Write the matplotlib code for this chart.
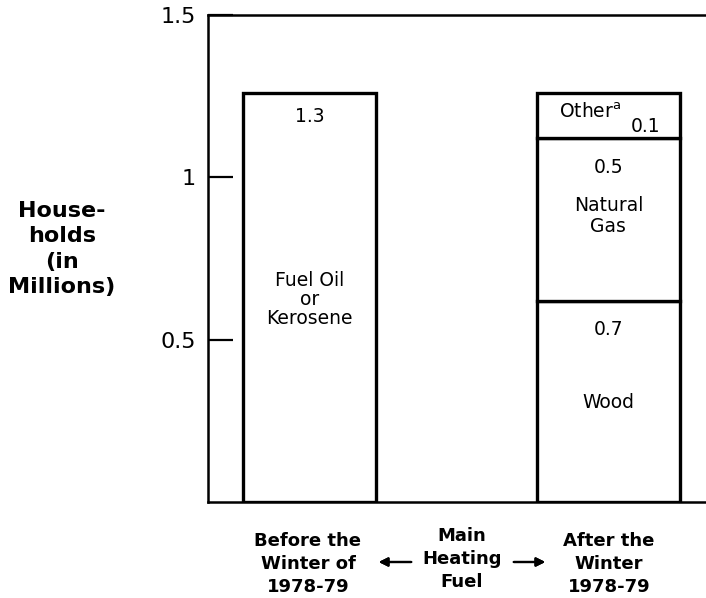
import matplotlib.pyplot as plt

plt.rcParams['font.family'] = ['DejaVu Sans']

# data (heights as drawn, labels as printed)
before_value = 1.26
before_label = '1.3'
after_fuels = ['Wood', 'Natural\nGas', 'Other']
after_values = [0.62, 0.50, 0.14]
after_labels = ['0.7', '0.5', '0.1']
y_ticks = [0.5, 1, 1.5]
y_ticklabels = ['0.5', '1', '1.5']

fig = plt.figure(figsize=(7.06, 5.98), dpi=100)
ax = fig.add_axes([208 / 706, 96 / 598, 520 / 706, 487 / 598])

ax.set_xlim(-0.339, 1.40)
ax.set_ylim(0, 1.5)

bar_kw = dict(facecolor='white', edgecolor='black', linewidth=2.4)
fs = 13.5

# before: fuel oil / kerosene
ax.bar(0, before_value, width=0.445, **bar_kw)
ax.annotate(before_label, (0, before_value), xytext=(0, -17), textcoords='offset points',
            ha='center', va='center', fontsize=fs)
ax.text(0, 0.625, 'Fuel Oil\nor\nKerosene', ha='center', va='center', fontsize=fs,
        linespacing=1.0)

# after: stacked
bottom = 0
for fuel, val, lab in zip(after_fuels, after_values, after_labels):
    ax.bar(1, val, width=0.478, bottom=bottom, **bar_kw)
    top = bottom + val
    if fuel == 'Other':
        ax.annotate('Other$^\\mathregular{a}$', (0.94, top), xytext=(0, -14),
                    textcoords='offset points', ha='center', va='center', fontsize=fs)
        ax.annotate(lab, (1.125, top), xytext=(0, -24), textcoords='offset points',
                    ha='center', va='center', fontsize=fs)
    else:
        ax.annotate(lab, (1, top), xytext=(0, -21), textcoords='offset points',
                    ha='center', va='center', fontsize=fs)
        ymid = 0.305 if fuel == 'Wood' else 0.881
        ax.text(1, ymid, fuel, ha='center', va='center', fontsize=fs, linespacing=1.1)
    bottom = top

ax.set_yticks(y_ticks)
ax.set_yticklabels(y_ticklabels, fontsize=16)
ax.tick_params(axis='y', direction='in', length=18, width=1.6, pad=9)
ax.set_xticks([])
for side in ['left', 'top', 'bottom']:
    ax.spines[side].set_linewidth(1.8)
ax.spines['right'].set_visible(False)

fig.text(62 / 706, 1 - 249 / 598, 'House-\nholds\n(in\nMillions)', ha='center', va='center',
         fontsize=16, fontweight='bold', linespacing=1.35)

# bottom labels
lab_kw = dict(ha='center', va='center', fontsize=13, fontweight='bold', linespacing=1.38)
fig.text(308 / 706, 1 - 564 / 598, 'Before the\nWinter of\n1978-79', **lab_kw)
fig.text(462 / 706, 1 - 559 / 598, 'Main\nHeating\nFuel', **lab_kw)
fig.text(609 / 706, 1 - 564 / 598, 'After the\nWinter\n1978-79', **lab_kw)

arrow_kw = dict(xycoords='figure fraction', textcoords='figure fraction',
                arrowprops=dict(arrowstyle='-|>', color='black', lw=1.6, mutation_scale=13))
fig.add_artist(plt.annotate('', xy=(376 / 706, 1 - 562 / 598), xytext=(414 / 706, 1 - 562 / 598),
                            **arrow_kw))
fig.add_artist(plt.annotate('', xy=(548 / 706, 1 - 562 / 598), xytext=(511 / 706, 1 - 562 / 598),
                            **arrow_kw))

fig.savefig('out.png', dpi=100)
